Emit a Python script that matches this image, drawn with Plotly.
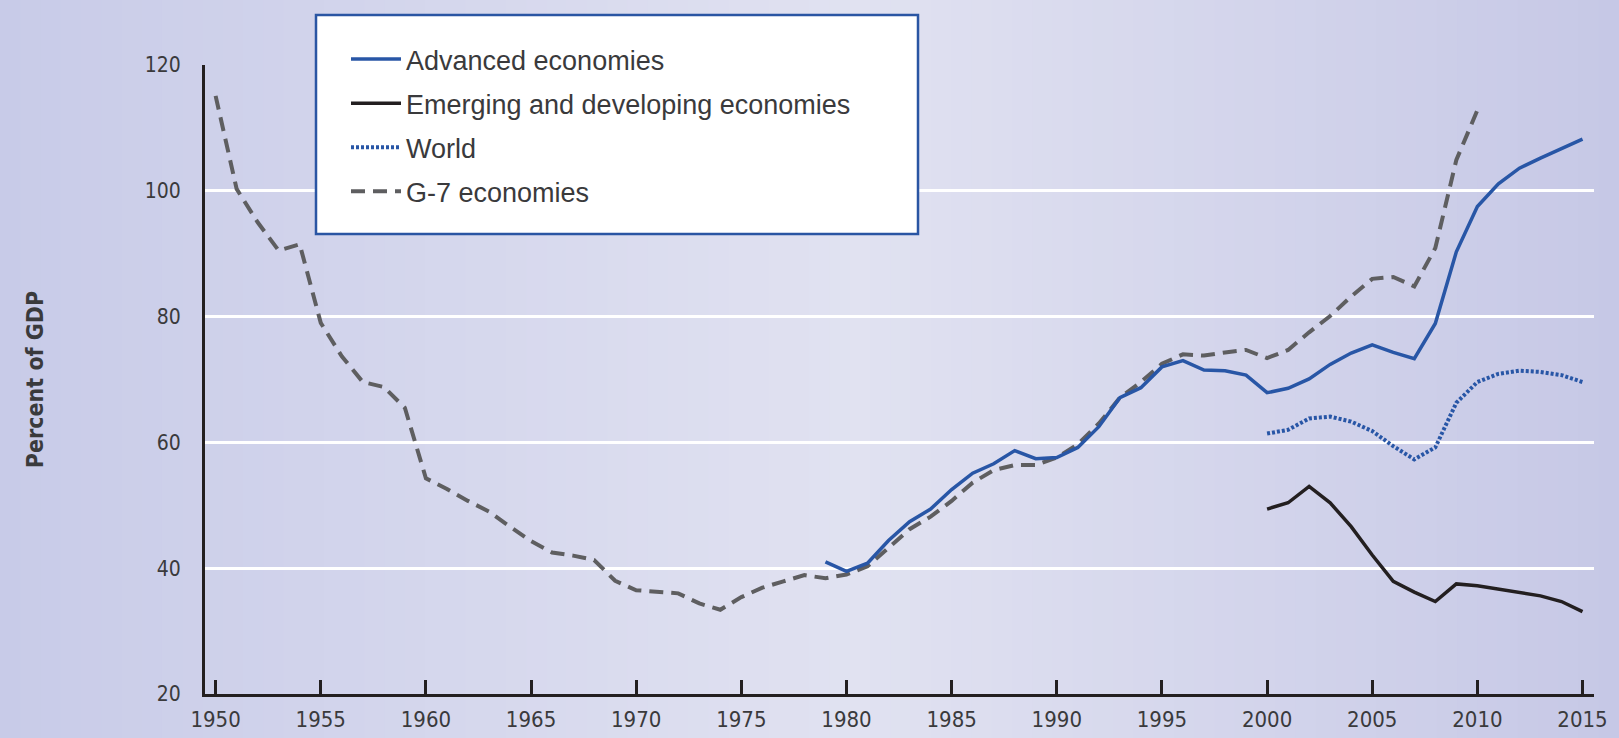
import plotly.graph_objects as go

# ---------------- data ----------------
g7_years = list(range(1950, 2011))
g7_values = [115.1, 100.3, 95.0, 90.5, 91.5, 79.0, 73.7, 69.6, 68.8, 65.5,
             54.3, 52.6, 50.7, 49.0, 46.6, 44.3, 42.5, 42.0, 41.3, 38.0,
             36.5, 36.2, 36.0, 34.4, 33.4, 35.4, 36.9, 37.9, 38.9, 38.4,
             39.0, 40.3, 43.3, 46.2, 48.2, 50.7, 53.6, 55.6, 56.4, 56.4,
             57.6, 59.7, 63.0, 67.1, 69.6, 72.5, 74.0, 73.8, 74.3, 74.7,
             73.4, 74.7, 77.5, 80.1, 83.2, 86.0, 86.3, 84.8, 90.9, 104.9,
             112.8]

adv_years = list(range(1979, 2016))
adv_values = [41.0, 39.5, 40.8, 44.4, 47.4, 49.4, 52.5, 55.1, 56.6, 58.7,
              57.4, 57.6, 59.2, 62.5, 67.1, 68.7, 72.0, 73.0, 71.5, 71.4,
              70.7, 67.9, 68.6, 70.1, 72.4, 74.2, 75.5, 74.3, 73.3, 78.9,
              90.3, 97.5, 101.1, 103.6, 105.2, 106.7, 108.2]

world_years = list(range(2000, 2016))
world_values = [61.4, 62.0, 63.8, 64.1, 63.3, 61.8, 59.4, 57.3, 59.2, 66.3,
                69.6, 70.9, 71.4, 71.2, 70.7, 69.6]

emg_years = list(range(2000, 2016))
emg_values = [49.4, 50.4, 53.0, 50.4, 46.6, 42.1, 37.9, 36.2, 34.7, 37.5,
              37.2, 36.7, 36.2, 35.6, 34.7, 33.1]

x_ticks = list(range(1950, 2016, 5))
y_ticks = [20, 40, 60, 80, 100, 120]

# ---------------- styling ----------------
W, H = 1619, 738
ML, MR, MT, MB = 205, 25, 65, 44
PW = W - ML - MR
PH = H - MT - MB

BLUE = "#2856a6"
BLACK = "#231f20"
GREY = "#5e5e60"
TEXT = "#3a3a3c"
NARROW = "DejaVu Sans Condensed, Liberation Sans Narrow, sans-serif"
SANS = "Liberation Sans, Arial, sans-serif"

fig = go.Figure()

fig.add_trace(go.Scatter(x=g7_years, y=g7_values, mode="lines", name="G-7 economies",
                         legendrank=4, legendgroup="d",
                         line=dict(color=GREY, width=4, dash="14px,8px")))
fig.add_trace(go.Scatter(x=world_years, y=world_values, mode="lines", name="World",
                         legendrank=3, legendgroup="c",
                         line=dict(color=BLUE, width=4, dash="3px,2px")))
fig.add_trace(go.Scatter(x=emg_years, y=emg_values, mode="lines",
                         name="Emerging and developing economies",
                         legendrank=2, legendgroup="b",
                         line=dict(color=BLACK, width=3.5)))
fig.add_trace(go.Scatter(x=adv_years, y=adv_values, mode="lines", name="Advanced economies",
                         legendrank=1, legendgroup="a",
                         line=dict(color=BLUE, width=3.5)))


def px2paperx(px):
    return (px - ML) / PW


def px2papery(py):
    return (H - MB - py) / PH


# background horizontal gradient (vertical strips)
def bg_color(t):
    left = (200, 203, 232)
    mid = (225, 226, 241)
    right = (198, 200, 230)
    peak = 0.53
    if t <= peak:
        f = t / peak
        a, b = left, mid
    else:
        f = (t - peak) / (1 - peak)
        a, b = mid, right
    c = [round(a[i] + (b[i] - a[i]) * f) for i in range(3)]
    return "rgb(%d,%d,%d)" % tuple(c)


shapes = []
N = 80
for i in range(N):
    x0 = W * i / N
    x1 = W * (i + 1) / N + 1
    shapes.append(dict(type="rect", xref="paper", yref="paper",
                       x0=px2paperx(x0), x1=px2paperx(x1),
                       y0=px2papery(H + 2), y1=px2papery(-2),
                       fillcolor=bg_color((i + 0.5) / N), line=dict(width=0),
                       layer="below"))

# legend box
shapes.append(dict(type="rect", xref="paper", yref="paper",
                   x0=px2paperx(316), x1=px2paperx(918),
                   y0=px2papery(234), y1=px2papery(15),
                   fillcolor="white", line=dict(color="#2a55a3", width=2.5),
                   layer="above"))

fig.update_layout(
    width=W, height=H,
    margin=dict(l=ML, r=MR, t=MT, b=MB, pad=0, autoexpand=False),
    paper_bgcolor="rgb(200,203,232)",
    plot_bgcolor="rgba(0,0,0,0)",
    shapes=shapes,
    showlegend=True,
    legend=dict(x=px2paperx(346), y=px2papery(35), xanchor="left", yanchor="top",
                bgcolor="rgba(0,0,0,0)", borderwidth=0,
                font=dict(family=SANS, size=27, color=TEXT),
                tracegroupgap=6, itemwidth=50, traceorder="grouped"),
    xaxis=dict(range=[1949.496, 2015.546], tickvals=x_ticks, automargin=False,
               showline=True, linecolor=BLACK, linewidth=3,
               ticks="inside", ticklen=14, tickwidth=3, tickcolor=BLACK,
               showgrid=False, zeroline=False, ticklabelstandoff=4,
               tickfont=dict(family=NARROW, size=22, color=TEXT)),
    yaxis=dict(range=[20, 120], tickvals=y_ticks, automargin=False,
               showline=True, linecolor=BLACK, linewidth=3,
               ticks="", showgrid=True, gridcolor="white", gridwidth=3,
               zeroline=False, ticklabelstandoff=17,
               tickfont=dict(family=NARROW, size=21, color=TEXT),
               title=dict(text="<b>Percent of GDP</b>", standoff=95,
                          font=dict(family=NARROW, size=23, color=TEXT))),
)

fig.write_html("out.html", config={"displayModeBar": False},
               post_script="document.body.style.margin='0';document.body.style.overflow='hidden';")
